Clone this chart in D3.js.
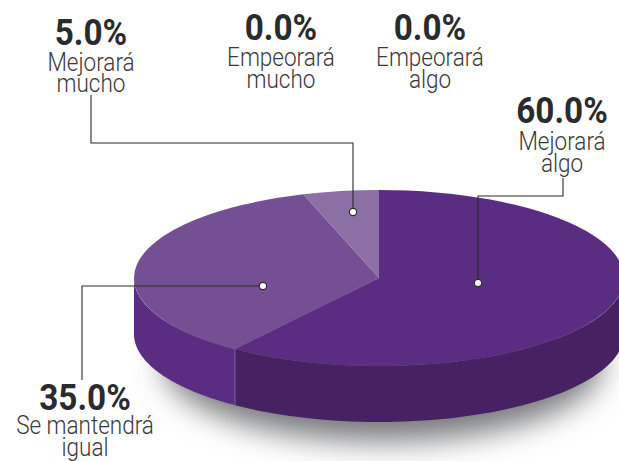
<!DOCTYPE html>
<html><head><meta charset="utf-8">
<script src="https://cdn.jsdelivr.net/npm/d3@7"></script>
<style>html,body{margin:0;padding:0;background:#fff;overflow:hidden}svg{display:block}
.lbl{font-family:"Roboto","Liberation Sans",sans-serif;text-anchor:middle}
.pct{font-weight:700;font-size:37px;fill:#2b2a2c}
.lab{font-weight:300;font-size:25px;fill:#3a393b}
</style></head><body><svg id="c" width="619" height="461"></svg>
<script>
const categories=["Mejorará algo","Se mantendrá igual","Mejorará mucho","Empeorará mucho","Empeorará algo"];
const values=[60,35,5,0,0];
const topColors=["#5a2d82","#754f93","#8b70a6"];
const sideColors=["#472263","#5a2d82","#5a2d82"];
const labelLines=[["Mejorará","algo"],["Se mantendrá","igual"],["Mejorará","mucho"],["Empeorará","mucho"],["Empeorará","algo"]];
const labelX=[562,85,91,281,430];
const pctY=[123,410,45,40,40];
const lineDy=[[27,22],[24,22],[26,21],[26,22],[26,22]];
const cx=379,cy=278,rx=245,ry=88,depth=56;
const svg=d3.select("#c");
const defs=svg.append("defs");
const f=defs.append("filter").attr("id","blur").attr("x","-30%").attr("y","-60%").attr("width","160%").attr("height","220%");
f.append("feGaussianBlur").attr("stdDeviation",15);
svg.append("ellipse").attr("cx",cx+4).attr("cy",cy+depth+29).attr("rx",rx-26).attr("ry",ry-10)
  .attr("fill","#77787b").attr("filter","url(#blur)");
const pie=d3.pie().sort(null).value(d=>d);
const arcs=pie(values);
const px=a=>cx+rx*Math.sin(a), py=a=>cy-ry*Math.cos(a);
const PI=Math.PI;
arcs.forEach((d,i)=>{
  const a0=Math.max(d.startAngle,PI/2),a1=Math.min(d.endAngle,3*PI/2);
  if(a1<=a0)return;
  const n=60,as=d3.range(n+1).map(k=>a0+(a1-a0)*k/n);
  const area=d3.area().x(a=>px(a)).y0(a=>py(a)).y1(a=>py(a)+depth);
  svg.append("path").attr("d",area(as)).attr("fill",sideColors[i]);
});
const ang=arcs[0].endAngle;
svg.append("line").attr("x1",px(ang)).attr("x2",px(ang)).attr("y1",py(ang)).attr("y2",py(ang)+depth).attr("stroke","#8b70a6").attr("stroke-width",.8);
const arc=d3.arc().innerRadius(0).outerRadius(1);
const g=svg.append("g").attr("transform",`translate(${cx},${cy}) scale(${rx},${ry})`);
g.selectAll("path").data(arcs).join("path").attr("d",d=>d.value>0?arc(d):null).attr("fill",(d,i)=>topColors[i]||"none");
const leaders=[[[478,283],[478,196],[563,196],[563,178]],[[263,286],[82,286],[82,380]],[[353,212],[353,143],[91,143],[91,95]]];
const line=d3.line();
leaders.forEach(p=>{
  svg.append("path").attr("d",line(p)).attr("fill","none").attr("stroke","#2b2a2c").attr("stroke-width",1.1);
  svg.append("circle").attr("cx",p[0][0]).attr("cy",p[0][1]).attr("r",3.6).attr("fill","#fff").attr("stroke","#2b2a2c").attr("stroke-width",1.1);
});
values.forEach((v,i)=>{
  const t=svg.append("text").attr("class","lbl").attr("transform",`translate(${labelX[i]},${pctY[i]}) scale(.9,1)`);
  t.append("tspan").attr("class","pct").attr("x",0).attr("y",0).text(d3.format(".1f")(v)+"%");
  labelLines[i].forEach((s,j)=>t.append("tspan").attr("class","lab").attr("x",0).attr("dy",lineDy[i][j]).text(s));
});
</script></body></html>
